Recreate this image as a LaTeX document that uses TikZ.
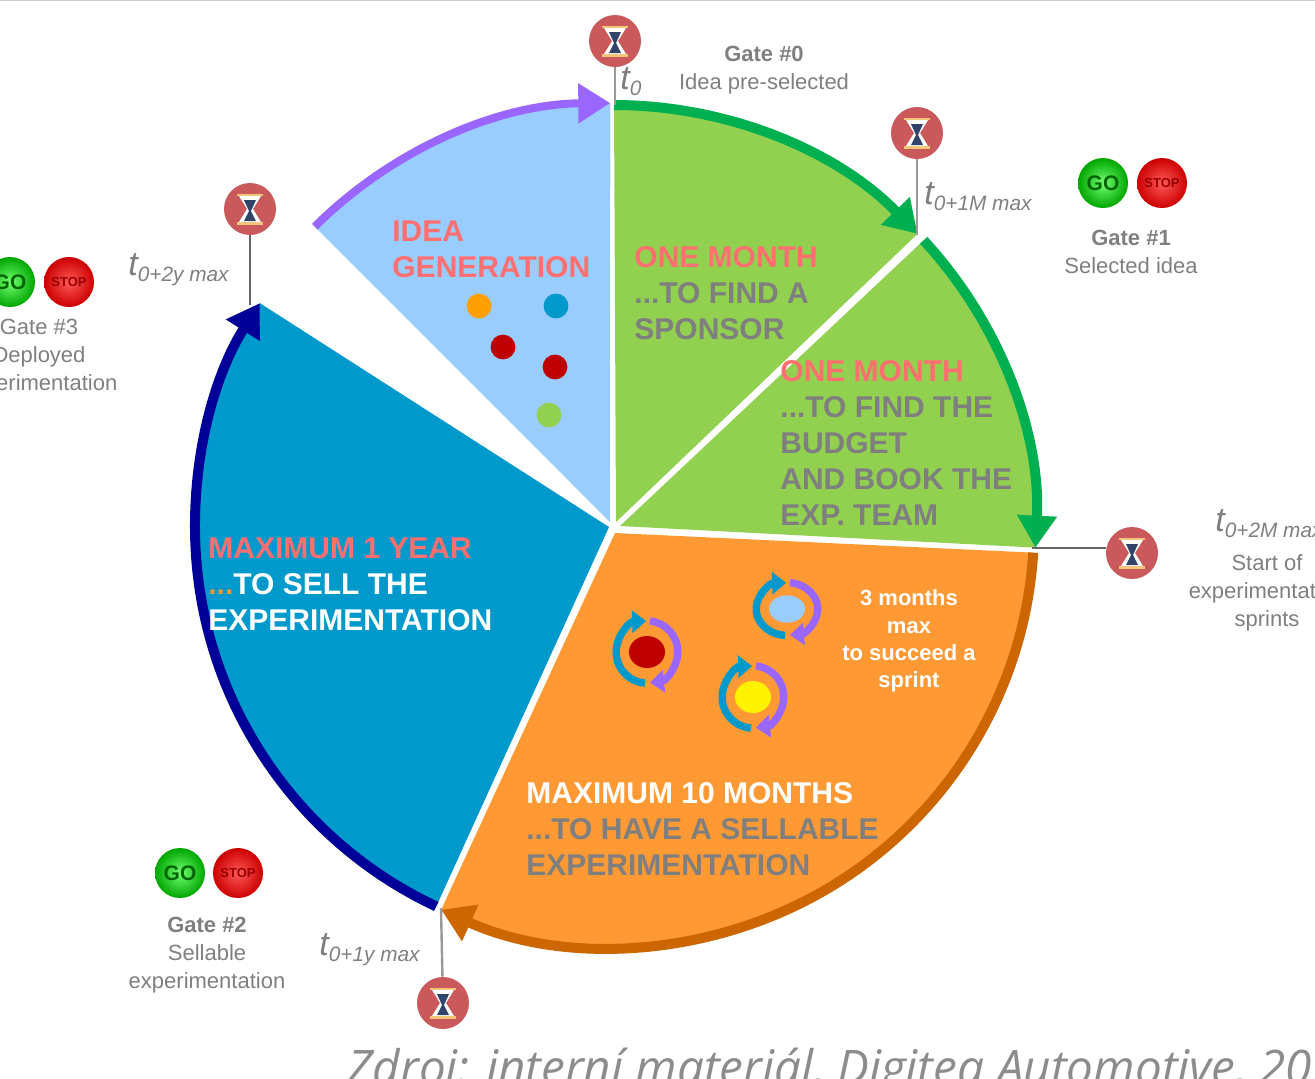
\documentclass[tikz,border=0pt]{standalone}
\usepackage{fontspec}
\setmainfont{Liberation Sans}
\newfontfamily\sourcefont{Open Sans}
\usetikzlibrary{arrows.meta,shadings}

\definecolor{ideablue}{HTML}{99CCFF}
\definecolor{ideapurple}{HTML}{9966FF}
\definecolor{leafgreen}{HTML}{92D050}
\definecolor{rimgreen}{HTML}{00B050}
\definecolor{sprintorange}{HTML}{FF9933}
\definecolor{rimorange}{HTML}{CC6600}
\definecolor{sellblue}{HTML}{0099CC}
\definecolor{rimblue}{HTML}{000099}
\definecolor{headred}{HTML}{FF6F6F}
\definecolor{textgray}{HTML}{7F7F7F}
\definecolor{clockred}{HTML}{C9595A}
\definecolor{sandtan}{HTML}{F5C67A}
\definecolor{glassnavy}{HTML}{2F4468}

\newcommand{\tlab}[1]{{\fontsize{17}{17}\selectfont\itshape t}\raisebox{-3pt}{\fontsize{10.4}{11}\selectfont\itshape #1}}

\tikzset{
    rim/.style={line width=5pt,-{Triangle[length=16pt,width=19pt]}},
    clock/.style={circle,fill=clockred,minimum size=26pt,inner sep=0pt},
    stem/.style={line width=1.2pt,draw=black!40},
    gatetext/.style={text=textgray,align=center,font=\fontsize{11}{14}\selectfont},
    headtext/.style={anchor=north west,inner sep=0pt,align=left,font=\fontsize{15}{18}\selectfont\bfseries},
    golamp/.style={circle,inner color=green!55!white,outer color=green!65!black,text=green!40!black,minimum size=25pt,inner sep=0pt,font=\fontsize{10.5}{11}\selectfont\bfseries},
    stoplamp/.style={circle,inner color=red!65!white,outer color=red!80!black,text=red!60!black,minimum size=25pt,inner sep=0pt,font=\fontsize{6.5}{7}\selectfont\bfseries},
    tlabel/.style={anchor=west,inner sep=0pt,text=textgray},
    hourglass/.pic={
        \fill[white] (-11,13) -- (-3,0) -- (-11,-13) -- (11,-13) -- (3,0) -- (11,13) -- cycle;
        \fill[glassnavy] (-6,9) -- (6,9) -- (1,-2) -- (6,-12) -- (-6,-12) -- (-1,-2) -- cycle;
        \fill[sandtan] (-13,13) rectangle (13,15.5);
        \fill[sandtan] (-13,-13) rectangle (13,-15.5);
    },
    sprint/.pic={
        \draw[sellblue,line width=3.7pt,-{Triangle[length=7pt,width=11pt]}] (-2,-31) arc[start angle=266,end angle=92,radius=15.5pt];
        \draw[ideapurple,line width=3.7pt,-{Triangle[length=7pt,width=11pt]}] (3,31) arc[start angle=84,end angle=-84,radius=15.5pt];
        \fill[#1] (0,0) ellipse[x radius=18,y radius=16];
    },
}

\begin{document}
\begin{tikzpicture}[x=0.5pt,y=0.5pt]
    \useasboundingbox (0,0) rectangle (1315,-1078);
    \clip (0,0) rectangle (1315,-1078);
    \draw[black!20,line width=1pt] (0,0) -- (1315,0);

    % The sectors, each with its own apex so that a white gap stays between them
    \begin{scope}[shift={(614,-527)}]
    \fill[ideablue] (-4,5) -- (134.9:424) arc[start angle=134.9,end angle=90.5,radius=212pt] -- cycle;
    \fill[leafgreen] (2,5) -- (90:422) arc[start angle=90,end angle=44,radius=211pt] -- cycle;
    \fill[leafgreen] (6,1) -- (42.8:422) arc[start angle=42.8,end angle=-2.8,radius=211pt] -- cycle;
    \fill[sprintorange] (1,-6) -- (-3.5:420) arc[start angle=-3.5,end angle=-114.3,radius=210pt] -- cycle;
    \fill[sellblue] (-5,0) -- (244.9:419) arc[start angle=244.9,end angle=147.7,radius=209.5pt] -- cycle;

    % The rims with their arrow heads
    \draw[rim,ideapurple,line width=4pt] (134.9:424) arc[start angle=134.9,end angle=90.5,radius=212pt];
    \draw[rim,rimgreen] (90:422) arc[start angle=90,end angle=44,radius=211pt];
    \draw[rim,rimgreen] (42.8:422) arc[start angle=42.8,end angle=-2.8,radius=211pt];
    \draw[rim,rimorange] (-3.5:420) arc[start angle=-3.5,end angle=-114.3,radius=210pt];
    \draw[rim,rimblue] (244.9:419) arc[start angle=244.9,end angle=147.7,radius=209.5pt];
    \end{scope}

    % Clocks and stems
    \node[clock] (clock0) at (615,-41) {};
    \node[clock] (clock1) at (917,-133) {};
    \node[clock] (clock2) at (443,-1003) {};
    \node[clock] (clock3) at (250,-209) {};
    \node[clock] (clock4) at (1132,-553) {};
    \coordinate (end0) at (615,-105);
    \coordinate (end1) at (917,-235);
    \coordinate (end2) at (441,-908);
    \coordinate (end3) at (250,-305);
    \coordinate (end4) at (1032,-548);
    \draw[stem] (clock0) -- (end0);
    \draw[stem] (clock1) -- (end1);
    \draw[stem] (clock2) -- (end2);
    \draw[stem,black!60] (clock3) -- (end3);
    \draw[stem,black!60] (end4) -- (end4 -| clock4.west);
    \foreach \n in {0,...,4}{%
        \pic at (clock\n) {hourglass};}

    % Time labels
    \node[tlabel] (t0) at (620,-82) {\tlab{0}};
    \node[tlabel] (t1) at (924,-197) {\tlab{0+1M max}};
    \node[tlabel] (t2) at (319,-950) {\tlab{0+1y max}};
    \node[tlabel] (t3) at (128,-270) {\tlab{0+2y max}};
    \node[tlabel] (t4) at (1215,-524) {\tlab{0+2M max}};

    % Gate lamps and their texts
    \node[golamp] (go1) at (1103,-183) {GO};
    \node[stoplamp] (stop1) at (1162,-183) {STOP};
    \node[golamp] (go2) at (180,-873) {GO};
    \node[stoplamp] (stop2) at (238,-873) {STOP};
    \node[golamp] (go3) at (10,-282) {GO};
    \node[stoplamp] (stop3) at (69,-282) {STOP};
    \node[gatetext] (gate0) at (764,-70) {\textbf{Gate \#0}\\Idea pre-selected};
    \node[gatetext] (gate1) at (1131,-252) {\textbf{Gate \#1}\\Selected idea};
    \node[gatetext] (gate2) at (207,-955) {\textbf{Gate \#2}\\Sellable\\experimentation};
    \node[gatetext] (gate3) at (39,-357) {Gate \#3\\Deployed\\experimentation};
    \node[gatetext] (gate4) at (1267,-593) {Start of\\experimentation\\sprints};

    % Texts in the sectors
    \node[headtext,text=headred] (idea) at (392,-220) {IDEA\\GENERATION};
    \node[headtext,text=textgray] (sponsor) at (634,-246) {\textcolor{headred}{ONE MONTH}\\...TO FIND A\\SPONSOR};
    \node[headtext,text=textgray] (budget) at (780,-360) {\textcolor{headred}{ONE MONTH}\\...TO FIND THE\\BUDGET\\AND BOOK THE\\EXP. TEAM};
    \node[headtext,text=white] (sell) at (208,-537) {\textcolor{headred}{MAXIMUM 1 YEAR}\\\textcolor{sprintorange}{...}TO SELL THE\\EXPERIMENTATION};
    \node[headtext,text=textgray] (months) at (526,-782) {\textcolor{white}{MAXIMUM 10 MONTHS}\\...TO HAVE A SELLABLE\\EXPERIMENTATION};
    \node[text=white,align=center,font=\fontsize{11}{13.6}\selectfont\bfseries] (sprinttext) at (909,-641) {3 months\\max\\to succeed a\\sprint};

    % Ideas in the funnel
    \foreach \x/\y/\c in {479/306/orange!75!yellow,556/306/sellblue,503/347/red!75!black,555/367/red!75!black,549/415/leafgreen}{%
        \fill[\c] (\x,-\y) circle (6.2pt);}

    % Sprints
    \pic at (647,-652) {sprint=red!75!black};
    \pic[yscale=0.85] at (787,-609) {sprint=ideablue};
    \pic at (753,-697) {sprint=yellow};

    \node[anchor=base west,inner sep=0pt,text=black!45,font=\sourcefont\itshape\fontsize{23.8}{24}\selectfont] (source) at (347,-1084) {Zdroj: interní materiál, Digiteq Automotive, 20};
\end{tikzpicture}
\end{document}
